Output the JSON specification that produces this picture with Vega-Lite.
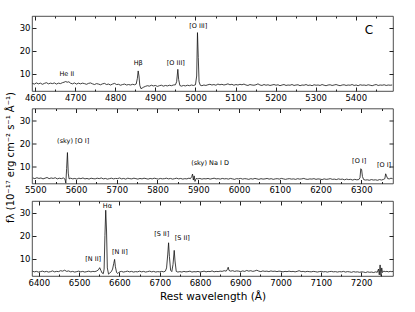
{
"$schema":"https://vega.github.io/schema/vega-lite/v6.json",
"autosize":{"type":"pad"},
"padding":{"left":4,"top":15,"right":21,"bottom":8},
"config":{"view":{"stroke":"#222","strokeWidth":0.8},"axis":{"labelFont":"DejaVu Sans","titleFont":"DejaVu Sans","labelColor":"#000","titleColor":"#000","tickColor":"#222","grid":false,"domain":false,"labelFontSize":8.5,"labelOverlap":false,"labelFlush":false}},
"datasets":{
"s1":[{"w":4593,"f":5.8},{"w":4598,"f":5.5},{"w":4603,"f":6.0},{"w":4608,"f":5.6},{"w":4613,"f":5.9},{"w":4618,"f":5.4},{"w":4623,"f":5.8},{"w":4628,"f":6.1},{"w":4633,"f":5.6},{"w":4638,"f":5.9},{"w":4643,"f":5.7},{"w":4648,"f":6.0},{"w":4653,"f":5.5},{"w":4658,"f":5.9},{"w":4663,"f":5.7},{"w":4668,"f":6.1},{"w":4672,"f":6.3},{"w":4676,"f":6.6},{"w":4680,"f":6.3},{"w":4684,"f":6.5},{"w":4688,"f":5.9},{"w":4693,"f":5.6},{"w":4698,"f":6.0},{"w":4703,"f":5.5},{"w":4708,"f":5.9},{"w":4713,"f":5.6},{"w":4718,"f":5.9},{"w":4723,"f":5.7},{"w":4728,"f":5.4},{"w":4733,"f":5.8},{"w":4738,"f":6.0},{"w":4743,"f":5.6},{"w":4748,"f":5.3},{"w":4753,"f":5.7},{"w":4758,"f":5.5},{"w":4763,"f":5.2},{"w":4768,"f":5.6},{"w":4773,"f":5.8},{"w":4778,"f":5.3},{"w":4783,"f":5.5},{"w":4788,"f":5.1},{"w":4793,"f":5.5},{"w":4798,"f":5.8},{"w":4803,"f":5.3},{"w":4808,"f":5.4},{"w":4813,"f":5.0},{"w":4818,"f":5.3},{"w":4823,"f":5.5},{"w":4828,"f":5.1},{"w":4833,"f":5.3},{"w":4838,"f":5.1},{"w":4843,"f":5.4},{"w":4848,"f":5.2},{"w":4852,"f":5.5},{"w":4855,"f":8.0},{"w":4857,"f":11.2},{"w":4859,"f":9.0},{"w":4861,"f":5.0},{"w":4864,"f":3.5},{"w":4867,"f":3.8},{"w":4871,"f":4.2},{"w":4875,"f":4.5},{"w":4880,"f":4.8},{"w":4885,"f":4.6},{"w":4890,"f":5.0},{"w":4895,"f":4.7},{"w":4900,"f":4.9},{"w":4905,"f":4.5},{"w":4910,"f":4.8},{"w":4915,"f":5.0},{"w":4920,"f":4.6},{"w":4925,"f":4.9},{"w":4930,"f":4.7},{"w":4935,"f":5.0},{"w":4940,"f":4.8},{"w":4945,"f":5.1},{"w":4950,"f":5.2},{"w":4953,"f":6.5},{"w":4956,"f":11.9},{"w":4958,"f":7.5},{"w":4961,"f":4.9},{"w":4965,"f":4.6},{"w":4970,"f":4.9},{"w":4975,"f":4.7},{"w":4980,"f":5.0},{"w":4985,"f":4.8},{"w":4990,"f":5.1},{"w":4995,"f":4.9},{"w":5000,"f":5.2},{"w":5003,"f":9.0},{"w":5005,"f":27.8},{"w":5007,"f":17.0},{"w":5009,"f":6.5},{"w":5012,"f":5.0},{"w":5016,"f":4.8},{"w":5021,"f":5.1},{"w":5026,"f":4.9},{"w":5031,"f":5.2},{"w":5036,"f":5.4},{"w":5041,"f":5.1},{"w":5046,"f":5.3},{"w":5051,"f":5.0},{"w":5056,"f":5.5},{"w":5061,"f":5.2},{"w":5066,"f":5.4},{"w":5071,"f":5.1},{"w":5076,"f":5.3},{"w":5081,"f":5.6},{"w":5086,"f":5.2},{"w":5091,"f":5.4},{"w":5096,"f":5.0},{"w":5101,"f":5.3},{"w":5106,"f":5.1},{"w":5111,"f":5.4},{"w":5116,"f":5.2},{"w":5121,"f":5.5},{"w":5126,"f":5.1},{"w":5131,"f":4.9},{"w":5136,"f":5.3},{"w":5141,"f":5.1},{"w":5146,"f":5.0},{"w":5151,"f":5.2},{"w":5156,"f":5.6},{"w":5161,"f":5.1},{"w":5166,"f":4.9},{"w":5171,"f":5.3},{"w":5176,"f":5.0},{"w":5181,"f":5.2},{"w":5186,"f":4.9},{"w":5191,"f":5.1},{"w":5196,"f":5.3},{"w":5201,"f":5.0},{"w":5206,"f":5.2},{"w":5211,"f":4.8},{"w":5216,"f":5.1},{"w":5221,"f":5.3},{"w":5226,"f":4.9},{"w":5231,"f":5.1},{"w":5236,"f":5.0},{"w":5241,"f":5.3},{"w":5246,"f":4.9},{"w":5251,"f":5.1},{"w":5256,"f":5.2},{"w":5261,"f":4.8},{"w":5266,"f":5.1},{"w":5271,"f":5.0},{"w":5276,"f":5.3},{"w":5281,"f":4.9},{"w":5286,"f":5.1},{"w":5291,"f":4.8},{"w":5296,"f":5.2},{"w":5301,"f":5.0},{"w":5306,"f":5.1},{"w":5311,"f":4.9},{"w":5316,"f":5.3},{"w":5321,"f":5.0},{"w":5326,"f":4.8},{"w":5331,"f":5.1},{"w":5336,"f":5.2},{"w":5341,"f":4.9},{"w":5346,"f":5.1},{"w":5351,"f":5.3},{"w":5356,"f":5.0},{"w":5361,"f":4.8},{"w":5366,"f":5.1},{"w":5371,"f":5.2},{"w":5376,"f":4.9},{"w":5381,"f":5.1},{"w":5386,"f":5.0},{"w":5391,"f":5.3},{"w":5396,"f":4.9},{"w":5401,"f":5.1},{"w":5406,"f":4.8},{"w":5411,"f":5.2},{"w":5416,"f":5.0},{"w":5421,"f":5.1},{"w":5426,"f":4.9},{"w":5431,"f":5.2},{"w":5436,"f":5.0},{"w":5441,"f":4.8},{"w":5446,"f":5.1},{"w":5451,"f":5.3},{"w":5456,"f":4.9},{"w":5461,"f":5.1},{"w":5466,"f":5.0},{"w":5471,"f":5.2},{"w":5476,"f":4.9},{"w":5481,"f":5.1},{"w":5486,"f":5.0},{"w":5491,"f":5.1}],
"s2":[{"w":5494,"f":4.9},{"w":5499,"f":4.6},{"w":5504,"f":5.0},{"w":5509,"f":4.7},{"w":5514,"f":4.9},{"w":5519,"f":4.5},{"w":5524,"f":4.8},{"w":5529,"f":5.1},{"w":5534,"f":4.6},{"w":5539,"f":4.9},{"w":5544,"f":4.7},{"w":5549,"f":5.0},{"w":5554,"f":4.5},{"w":5559,"f":4.8},{"w":5564,"f":4.6},{"w":5569,"f":4.9},{"w":5573,"f":4.4},{"w":5575,"f":2.6},{"w":5577,"f":9.0},{"w":5579,"f":15.9},{"w":5581,"f":7.0},{"w":5583,"f":4.5},{"w":5587,"f":4.8},{"w":5592,"f":4.5},{"w":5597,"f":4.7},{"w":5602,"f":4.4},{"w":5607,"f":4.8},{"w":5612,"f":4.6},{"w":5617,"f":4.9},{"w":5622,"f":4.5},{"w":5627,"f":4.7},{"w":5632,"f":4.4},{"w":5637,"f":4.8},{"w":5642,"f":4.6},{"w":5647,"f":4.5},{"w":5652,"f":4.8},{"w":5657,"f":4.6},{"w":5662,"f":4.9},{"w":5667,"f":4.5},{"w":5672,"f":4.7},{"w":5677,"f":4.4},{"w":5682,"f":4.6},{"w":5687,"f":4.8},{"w":5692,"f":4.5},{"w":5697,"f":4.7},{"w":5702,"f":4.6},{"w":5707,"f":4.9},{"w":5712,"f":4.5},{"w":5717,"f":4.7},{"w":5722,"f":4.4},{"w":5727,"f":4.8},{"w":5732,"f":4.6},{"w":5737,"f":4.5},{"w":5742,"f":4.8},{"w":5747,"f":4.6},{"w":5752,"f":4.4},{"w":5757,"f":4.7},{"w":5762,"f":4.5},{"w":5767,"f":4.8},{"w":5772,"f":4.6},{"w":5777,"f":4.4},{"w":5782,"f":4.7},{"w":5787,"f":4.5},{"w":5792,"f":4.8},{"w":5797,"f":4.6},{"w":5802,"f":4.4},{"w":5807,"f":4.7},{"w":5812,"f":4.5},{"w":5817,"f":4.6},{"w":5822,"f":4.8},{"w":5827,"f":4.5},{"w":5832,"f":4.7},{"w":5837,"f":4.4},{"w":5842,"f":4.6},{"w":5847,"f":4.8},{"w":5852,"f":4.5},{"w":5857,"f":4.7},{"w":5862,"f":4.4},{"w":5867,"f":4.6},{"w":5872,"f":4.5},{"w":5877,"f":4.8},{"w":5881,"f":4.6},{"w":5884,"f":5.5},{"w":5886,"f":6.6},{"w":5888,"f":4.0},{"w":5890,"f":5.8},{"w":5892,"f":3.4},{"w":5895,"f":4.7},{"w":5899,"f":4.5},{"w":5904,"f":4.7},{"w":5909,"f":4.4},{"w":5914,"f":4.6},{"w":5919,"f":4.5},{"w":5924,"f":4.7},{"w":5929,"f":4.4},{"w":5934,"f":4.6},{"w":5939,"f":4.8},{"w":5944,"f":4.5},{"w":5949,"f":4.6},{"w":5954,"f":4.4},{"w":5959,"f":4.7},{"w":5964,"f":4.5},{"w":5969,"f":4.6},{"w":5974,"f":4.4},{"w":5979,"f":4.7},{"w":5984,"f":4.5},{"w":5989,"f":4.3},{"w":5994,"f":4.6},{"w":5999,"f":4.5},{"w":6004,"f":4.7},{"w":6009,"f":4.4},{"w":6014,"f":4.6},{"w":6019,"f":4.5},{"w":6024,"f":4.3},{"w":6029,"f":4.6},{"w":6034,"f":4.4},{"w":6039,"f":4.7},{"w":6044,"f":4.5},{"w":6049,"f":4.3},{"w":6054,"f":4.6},{"w":6059,"f":4.4},{"w":6064,"f":4.5},{"w":6069,"f":4.7},{"w":6074,"f":4.4},{"w":6079,"f":4.6},{"w":6084,"f":4.3},{"w":6089,"f":4.5},{"w":6094,"f":4.6},{"w":6099,"f":4.4},{"w":6104,"f":4.7},{"w":6109,"f":4.5},{"w":6114,"f":4.3},{"w":6119,"f":4.5},{"w":6124,"f":4.6},{"w":6129,"f":4.4},{"w":6134,"f":4.5},{"w":6139,"f":4.3},{"w":6144,"f":4.6},{"w":6149,"f":4.4},{"w":6154,"f":4.5},{"w":6159,"f":4.7},{"w":6164,"f":4.4},{"w":6169,"f":4.3},{"w":6174,"f":4.5},{"w":6179,"f":4.4},{"w":6184,"f":4.6},{"w":6189,"f":4.3},{"w":6194,"f":4.5},{"w":6199,"f":4.4},{"w":6204,"f":4.2},{"w":6209,"f":4.5},{"w":6214,"f":4.3},{"w":6219,"f":4.4},{"w":6224,"f":4.6},{"w":6229,"f":4.3},{"w":6234,"f":4.4},{"w":6239,"f":4.2},{"w":6244,"f":4.5},{"w":6249,"f":4.3},{"w":6254,"f":4.4},{"w":6259,"f":4.1},{"w":6264,"f":4.4},{"w":6269,"f":4.2},{"w":6274,"f":4.3},{"w":6279,"f":4.0},{"w":6284,"f":4.3},{"w":6289,"f":4.1},{"w":6294,"f":4.2},{"w":6297,"f":5.0},{"w":6299,"f":8.9},{"w":6301,"f":8.5},{"w":6303,"f":5.5},{"w":6306,"f":4.2},{"w":6310,"f":4.0},{"w":6315,"f":4.1},{"w":6320,"f":3.9},{"w":6325,"f":4.2},{"w":6330,"f":4.0},{"w":6335,"f":4.1},{"w":6340,"f":3.9},{"w":6345,"f":4.2},{"w":6350,"f":4.0},{"w":6355,"f":4.3},{"w":6358,"f":4.6},{"w":6360,"f":6.7},{"w":6362,"f":5.8},{"w":6365,"f":4.6},{"w":6369,"f":4.5},{"w":6373,"f":4.8},{"w":6377,"f":4.6}],
"s3":[{"w":6384,"f":4.6},{"w":6389,"f":4.3},{"w":6394,"f":4.5},{"w":6399,"f":4.2},{"w":6404,"f":4.4},{"w":6409,"f":4.6},{"w":6414,"f":4.3},{"w":6419,"f":4.5},{"w":6424,"f":4.2},{"w":6429,"f":4.4},{"w":6434,"f":4.7},{"w":6439,"f":4.3},{"w":6444,"f":4.5},{"w":6449,"f":4.4},{"w":6454,"f":4.8},{"w":6459,"f":4.6},{"w":6464,"f":5.0},{"w":6469,"f":4.5},{"w":6474,"f":4.7},{"w":6479,"f":4.3},{"w":6484,"f":4.5},{"w":6489,"f":4.2},{"w":6494,"f":4.4},{"w":6499,"f":4.6},{"w":6504,"f":4.3},{"w":6509,"f":4.5},{"w":6514,"f":4.2},{"w":6519,"f":4.4},{"w":6524,"f":4.6},{"w":6529,"f":4.3},{"w":6534,"f":4.5},{"w":6539,"f":4.4},{"w":6544,"f":4.7},{"w":6548,"f":5.2},{"w":6551,"f":6.1},{"w":6554,"f":4.9},{"w":6557,"f":3.8},{"w":6560,"f":3.5},{"w":6562,"f":5.5},{"w":6564,"f":20.0},{"w":6566,"f":31.0},{"w":6568,"f":22.0},{"w":6570,"f":6.0},{"w":6573,"f":3.3},{"w":6576,"f":3.8},{"w":6580,"f":4.4},{"w":6583,"f":5.5},{"w":6586,"f":8.0},{"w":6588,"f":9.7},{"w":6590,"f":6.5},{"w":6593,"f":4.0},{"w":6596,"f":3.6},{"w":6600,"f":4.3},{"w":6605,"f":4.5},{"w":6610,"f":4.2},{"w":6615,"f":4.4},{"w":6620,"f":4.6},{"w":6625,"f":4.3},{"w":6630,"f":4.5},{"w":6635,"f":4.2},{"w":6640,"f":4.4},{"w":6645,"f":4.3},{"w":6650,"f":4.6},{"w":6655,"f":4.3},{"w":6660,"f":4.5},{"w":6665,"f":4.2},{"w":6670,"f":4.4},{"w":6675,"f":4.6},{"w":6680,"f":4.3},{"w":6685,"f":4.5},{"w":6690,"f":4.2},{"w":6695,"f":4.4},{"w":6700,"f":4.3},{"w":6705,"f":4.5},{"w":6710,"f":4.3},{"w":6714,"f":4.6},{"w":6717,"f":6.0},{"w":6720,"f":12.0},{"w":6722,"f":16.9},{"w":6724,"f":11.0},{"w":6727,"f":5.0},{"w":6730,"f":4.4},{"w":6733,"f":7.5},{"w":6736,"f":13.6},{"w":6738,"f":9.0},{"w":6741,"f":4.5},{"w":6745,"f":4.2},{"w":6750,"f":4.4},{"w":6755,"f":4.2},{"w":6760,"f":4.5},{"w":6765,"f":4.3},{"w":6770,"f":4.4},{"w":6775,"f":4.6},{"w":6780,"f":4.2},{"w":6785,"f":4.4},{"w":6790,"f":4.3},{"w":6795,"f":4.5},{"w":6800,"f":4.2},{"w":6805,"f":4.4},{"w":6810,"f":4.6},{"w":6815,"f":4.3},{"w":6820,"f":4.5},{"w":6825,"f":4.4},{"w":6830,"f":4.7},{"w":6835,"f":4.3},{"w":6840,"f":4.5},{"w":6845,"f":4.4},{"w":6850,"f":4.6},{"w":6855,"f":4.5},{"w":6860,"f":4.8},{"w":6865,"f":4.6},{"w":6868,"f":5.4},{"w":6870,"f":6.3},{"w":6872,"f":4.9},{"w":6876,"f":4.6},{"w":6881,"f":4.8},{"w":6886,"f":4.5},{"w":6891,"f":4.7},{"w":6896,"f":4.6},{"w":6901,"f":4.4},{"w":6906,"f":4.7},{"w":6911,"f":4.5},{"w":6916,"f":4.9},{"w":6921,"f":4.6},{"w":6926,"f":4.8},{"w":6931,"f":4.5},{"w":6936,"f":4.7},{"w":6941,"f":5.0},{"w":6946,"f":4.6},{"w":6951,"f":4.4},{"w":6956,"f":4.7},{"w":6961,"f":4.5},{"w":6966,"f":4.6},{"w":6971,"f":4.4},{"w":6976,"f":4.7},{"w":6981,"f":4.5},{"w":6986,"f":4.6},{"w":6991,"f":4.4},{"w":6996,"f":4.6},{"w":7001,"f":4.5},{"w":7006,"f":4.3},{"w":7011,"f":4.5},{"w":7016,"f":4.4},{"w":7021,"f":4.6},{"w":7026,"f":4.4},{"w":7031,"f":4.5},{"w":7036,"f":4.3},{"w":7041,"f":4.5},{"w":7046,"f":4.8},{"w":7051,"f":4.4},{"w":7056,"f":4.5},{"w":7061,"f":4.3},{"w":7066,"f":4.5},{"w":7071,"f":4.4},{"w":7076,"f":4.3},{"w":7081,"f":4.5},{"w":7086,"f":4.4},{"w":7091,"f":4.2},{"w":7096,"f":4.4},{"w":7101,"f":4.5},{"w":7106,"f":4.3},{"w":7111,"f":4.4},{"w":7116,"f":4.2},{"w":7121,"f":4.4},{"w":7126,"f":4.5},{"w":7131,"f":4.3},{"w":7136,"f":4.4},{"w":7141,"f":4.2},{"w":7146,"f":4.4},{"w":7151,"f":4.3},{"w":7156,"f":4.5},{"w":7161,"f":4.2},{"w":7166,"f":4.4},{"w":7171,"f":4.3},{"w":7176,"f":4.1},{"w":7181,"f":4.4},{"w":7186,"f":4.2},{"w":7191,"f":4.3},{"w":7196,"f":4.1},{"w":7201,"f":4.3},{"w":7206,"f":4.2},{"w":7211,"f":4.0},{"w":7216,"f":4.3},{"w":7221,"f":4.1},{"w":7226,"f":4.2},{"w":7231,"f":4.0},{"w":7236,"f":4.3},{"w":7240,"f":4.1},{"w":7243,"f":5.5},{"w":7245,"f":3.0},{"w":7247,"f":7.3},{"w":7249,"f":2.7},{"w":7251,"f":6.0},{"w":7253,"f":4.0},{"w":7256,"f":4.6},{"w":7260,"f":4.4},{"w":7264,"f":4.5},{"w":7268,"f":4.3},{"w":7272,"f":4.5},{"w":7276,"f":4.4},{"w":7279,"f":4.5}]
},
"vconcat":[
{"width":361,"height":75,"resolve":{"axis":{"x":"independent","y":"independent"}},
"layer":[
{"data":{"name":"s1"},"mark":{"type":"line","color":"#111","strokeWidth":0.8,"clip":true},
"encoding":{"x":{"field":"w","type":"quantitative","scale":{"domain":[4592,5493],"nice":false,"zero":false},"axis":{"title":null,"values":[4600,4650,4700,4750,4800,4850,4900,4950,5000,5050,5100,5150,5200,5250,5300,5350,5400,5450],"format":"d","labelExpr":"datum.value % 100 === 0 ? datum.label : ''","tickSize":{"condition":{"test":"datum.value % 100 === 0","value":-4},"value":-2},"labelPadding":6}},
"y":{"field":"f","type":"quantitative","scale":{"domain":[2.5,35],"nice":false,"zero":false},"axis":{"title":null,"values":[10,20,30],"tickSize":-4,"labelPadding":6}}}},
{"data":{"name":"s1"},"mark":{"type":"point","opacity":0,"size":0},
"encoding":{"x":{"field":"w","type":"quantitative","axis":{"orient":"top","title":null,"labels":false,"values":[4600,4650,4700,4750,4800,4850,4900,4950,5000,5050,5100,5150,5200,5250,5300,5350,5400,5450],"tickSize":{"condition":{"test":"datum.value % 100 === 0","value":-4},"value":-2}}},
"y":{"field":"f","type":"quantitative","axis":{"orient":"right","title":null,"labels":false,"values":[10,20,30],"tickSize":-4}}}},
{"data":{"values":[{"w":4679,"f":9.9,"t":"He II"},{"w":4857,"f":14.7,"t":"Hβ"},{"w":4951,"f":14.7,"t":"[O III]"},{"w":5007,"f":30.7,"t":"[O III]"}]},"mark":{"type":"text","fontSize":6.5,"baseline":"middle","font":"DejaVu Sans","color":"#000"},
"encoding":{"x":{"field":"w","type":"quantitative","axis":null},"y":{"field":"f","type":"quantitative","axis":null},"text":{"field":"t"}}},
{"data":{"values":[{"w":5433,"f":28.8,"t":"C"}]},"mark":{"type":"text","fontSize":12,"baseline":"middle","font":"DejaVu Sans","color":"#000"},
"encoding":{"x":{"field":"w","type":"quantitative","axis":null},"y":{"field":"f","type":"quantitative","axis":null},"text":{"field":"t"}}}
]},
{"width":361,"height":75,"resolve":{"axis":{"x":"independent","y":"independent"}},
"layer":[
{"data":{"name":"s2"},"mark":{"type":"line","color":"#111","strokeWidth":0.8,"clip":true},
"encoding":{"x":{"field":"w","type":"quantitative","scale":{"domain":[5492,6378],"nice":false,"zero":false},"axis":{"title":null,"values":[5500,5550,5600,5650,5700,5750,5800,5850,5900,5950,6000,6050,6100,6150,6200,6250,6300,6350],"format":"d","labelExpr":"datum.value % 100 === 0 ? datum.label : ''","tickSize":{"condition":{"test":"datum.value % 100 === 0","value":-4},"value":-2},"labelPadding":6}},
"y":{"field":"f","type":"quantitative","scale":{"domain":[2.5,35],"nice":false,"zero":false},"axis":{"title":"fλ (10⁻¹⁷ erg cm⁻² s⁻¹ Å⁻¹)","titleFontSize":10,"titleFontWeight":"normal","titleX":-17,"titleY":48.5,"values":[10,20,30],"tickSize":-4,"labelPadding":6}}}},
{"data":{"name":"s2"},"mark":{"type":"point","opacity":0,"size":0},
"encoding":{"x":{"field":"w","type":"quantitative","axis":{"orient":"top","title":null,"labels":false,"values":[5500,5550,5600,5650,5700,5750,5800,5850,5900,5950,6000,6050,6100,6150,6200,6250,6300,6350],"tickSize":{"condition":{"test":"datum.value % 100 === 0","value":-4},"value":-2}}},
"y":{"field":"f","type":"quantitative","axis":{"orient":"right","title":null,"labels":false,"values":[10,20,30],"tickSize":-4}}}},
{"data":{"values":[{"w":5593,"f":20.9,"t":"(sky) [O I]"},{"w":5929,"f":11.4,"t":"(sky) Na I D"},{"w":6295,"f":12.3,"t":"[O I]"},{"w":6356,"f":10.5,"t":"[O I]"}]},"mark":{"type":"text","fontSize":6.5,"baseline":"middle","font":"DejaVu Sans","color":"#000"},
"encoding":{"x":{"field":"w","type":"quantitative","axis":null},"y":{"field":"f","type":"quantitative","axis":null},"text":{"field":"t"}}}
]},
{"width":361,"height":75,"resolve":{"axis":{"x":"independent","y":"independent"}},
"layer":[
{"data":{"name":"s3"},"mark":{"type":"line","color":"#111","strokeWidth":0.8,"clip":true},
"encoding":{"x":{"field":"w","type":"quantitative","scale":{"domain":[6383,7279],"nice":false,"zero":false},"axis":{"title":"Rest wavelength (Å)","titleFontSize":10.5,"titleFontWeight":"normal","titlePadding":3,"values":[6400,6450,6500,6550,6600,6650,6700,6750,6800,6850,6900,6950,7000,7050,7100,7150,7200,7250],"format":"d","labelExpr":"datum.value % 100 === 0 ? datum.label : ''","tickSize":{"condition":{"test":"datum.value % 100 === 0","value":-4},"value":-2},"labelPadding":6}},
"y":{"field":"f","type":"quantitative","scale":{"domain":[2.5,35],"nice":false,"zero":false},"axis":{"title":null,"values":[10,20,30],"tickSize":-4,"labelPadding":6}}}},
{"data":{"name":"s3"},"mark":{"type":"point","opacity":0,"size":0},
"encoding":{"x":{"field":"w","type":"quantitative","axis":{"orient":"top","title":null,"labels":false,"values":[6400,6450,6500,6550,6600,6650,6700,6750,6800,6850,6900,6950,7000,7050,7100,7150,7200,7250],"tickSize":{"condition":{"test":"datum.value % 100 === 0","value":-4},"value":-2}}},
"y":{"field":"f","type":"quantitative","axis":{"orient":"right","title":null,"labels":false,"values":[10,20,30],"tickSize":-4}}}},
{"data":{"values":[{"w":6570,"f":32.8,"t":"Hα"},{"w":6535,"f":9.7,"t":"[N II]"},{"w":6601,"f":12.8,"t":"[N II]"},{"w":6705,"f":20.6,"t":"[S II]"},{"w":6756,"f":18.8,"t":"[S II]"}]},"mark":{"type":"text","fontSize":6.5,"baseline":"middle","font":"DejaVu Sans","color":"#000"},
"encoding":{"x":{"field":"w","type":"quantitative","axis":null},"y":{"field":"f","type":"quantitative","axis":null},"text":{"field":"t"}}}
]}
],
"spacing":17.5,
"bounds":"flush"
}
